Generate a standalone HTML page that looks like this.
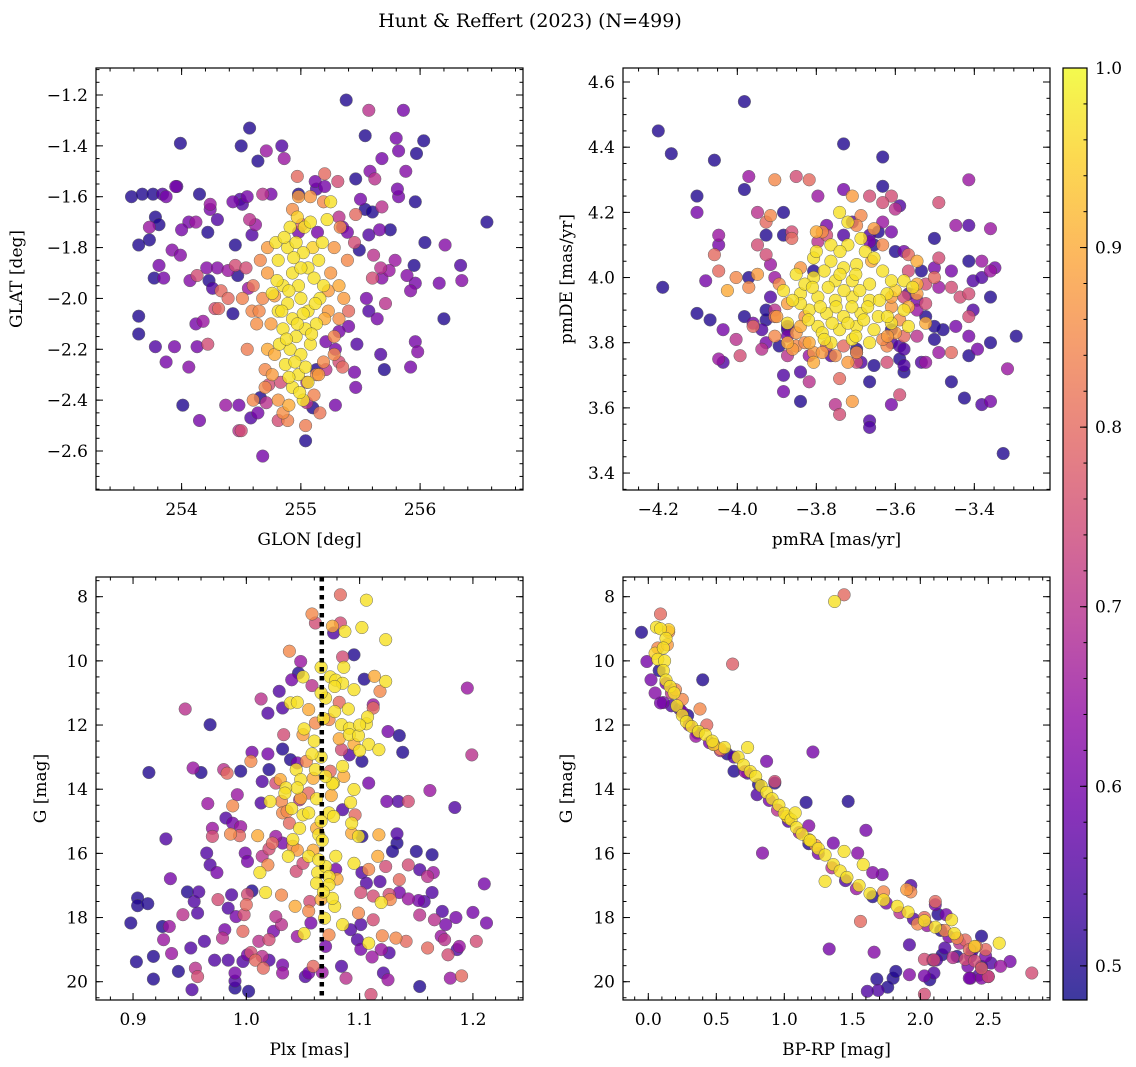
<!DOCTYPE html>
<html><head><meta charset="utf-8"><title>Hunt &amp; Reffert (2023)</title>
<style>
html,body{margin:0;padding:0;background:#fff;}
svg{display:block;font-family:"DejaVu Serif","Liberation Serif",serif;}
</style></head>
<body>
<svg id="fig" xmlns="http://www.w3.org/2000/svg" width="1136" height="1067" viewBox="0 0 1136 1067">
<rect width="1136" height="1067" fill="#fff"/>
<text x="530" y="27" font-size="19" text-anchor="middle" fill="#000">Hunt &amp; Reffert (2023) (N=499)</text>
<g id="layer"></g>
</svg>
<script>
// ---------- Panel 1: GLON / GLAT ----------
const glon = [255.38,255.57,255.86,254.57,253.99,254.50,254.71,254.64,254.84,254.86,255.54,255.80,256.03,255.82,255.97,255.68,255.88,255.58,255.62,255.46,255.31,255.20,254.97,255.12,255.20,255.13,254.98,253.58,253.67,253.76,253.84,253.87,253.95,253.96,254.15,254.43,254.49,254.55,254.51,254.68,254.75,254.24,254.24,254.30,254.57,254.62,254.59,254.22,254.06,254.12,254.00,253.78,253.73,253.81,253.73,253.64,253.92,253.99,254.45,253.81,253.77,253.85,254.07,254.13,254.23,254.21,254.30,254.39,254.47,254.45,254.54,254.56,254.26,254.33,254.39,254.28,254.31,254.18,254.12,254.22,254.13,254.43,253.64,253.64,253.78,253.94,253.87,254.06,254.01,254.15,254.37,254.48,254.58,254.64,254.48,254.50,254.81,254.68,255.04,254.71,255.10,255.05,255.29,255.05,254.83,254.73,254.66,255.13,255.21,255.45,255.46,255.32,255.29,255.21,255.47,255.40,255.32,255.64,255.57,255.71,255.55,255.67,255.70,255.92,255.96,255.98,256.20,255.92,255.96,256.16,255.89,255.95,256.34,256.35,256.04,256.21,256.56,255.75,255.66,255.49,255.61,255.79,255.74,255.68,255.60,255.67,255.57,255.54,255.60,255.68,255.50,255.96,255.82,255.81,255.35,255.39,255.45,255.46,254.98,255.14,255.32,255.01,
254.81,254.89,254.96,255.02,255.06,254.93,254.85,254.98,255.11,255.15,255.00,254.89,254.81,254.93,255.06,255.16,254.85,254.96,255.04,254.91,255.00,255.08,254.87,254.98,255.04,254.93,255.02,254.79,255.03,255.08,255.19,254.76,254.91,255.13,254.82,255.22,255.25,
254.72,254.68,254.63,254.72,254.76,254.70,254.81,254.85,255.23,255.28,255.32,255.25,255.36,255.32,255.19,255.11,254.98,254.93,255.08,255.19,254.72,254.59,254.55,254.51,255.16,254.89,255.13,255.28,255.39,255.04,
254.86,254.94,255.10,254.90,255.12,254.84,255.02,254.97,255.09,254.88,254.95,254.90,255.06,254.99,255.18,254.97,255.00,254.80,255.20,254.78,254.75,254.78,255.23,255.15,254.90,254.70,254.65,255.28,255.33,254.66,254.60,255.40,255.35,254.60];
const glat = [-1.22,-1.26,-1.26,-1.33,-1.39,-1.40,-1.42,-1.46,-1.40,-1.45,-1.36,-1.37,-1.38,-1.42,-1.43,-1.45,-1.50,-1.50,-1.53,-1.53,-1.54,-1.51,-1.52,-1.54,-1.56,-1.57,-1.59,-1.60,-1.59,-1.59,-1.59,-1.60,-1.56,-1.56,-1.59,-1.62,-1.61,-1.60,-1.63,-1.59,-1.59,-1.63,-1.65,-1.69,-1.69,-1.71,-1.75,-1.74,-1.70,-1.70,-1.73,-1.68,-1.72,-1.71,-1.77,-1.79,-1.81,-1.83,-1.79,-1.87,-1.92,-1.92,-1.93,-1.91,-1.93,-1.88,-1.88,-1.89,-1.91,-1.87,-1.88,-1.96,-1.96,-1.97,-2.00,-2.04,-2.04,-2.09,-2.10,-2.18,-2.19,-2.06,-2.07,-2.14,-2.19,-2.19,-2.25,-2.27,-2.42,-2.48,-2.42,-2.42,-2.47,-2.45,-2.52,-2.52,-2.48,-2.62,-2.56,-2.41,-2.43,-2.41,-2.42,-2.33,-2.33,-2.34,-2.39,-2.28,-2.28,-2.29,-2.35,-2.25,-2.20,-2.17,-2.18,-2.11,-2.13,-2.08,-2.05,-2.02,-2.00,-2.22,-2.28,-2.27,-2.17,-2.21,-2.08,-1.97,-1.94,-1.94,-1.91,-1.87,-1.87,-1.93,-1.78,-1.79,-1.70,-1.73,-1.73,-1.81,-1.83,-1.85,-1.89,-1.92,-1.92,-1.88,-1.75,-1.65,-1.66,-1.64,-1.61,-1.62,-1.60,-1.57,-1.72,-1.74,-1.78,-1.67,-1.74,-1.74,-1.68,-1.71,
-1.85,-1.80,-1.78,-1.82,-1.88,-1.90,-1.95,-1.95,-1.92,-1.85,-2.00,-2.02,-2.05,-2.08,-2.05,-2.00,-2.12,-2.15,-2.12,-2.20,-2.22,-2.18,-2.26,-2.30,-2.27,-2.35,-2.40,-1.78,-1.72,-1.70,-1.95,-1.98,-1.72,-2.10,-2.18,-1.69,-1.62,
-1.90,-2.00,-2.10,-2.20,-2.30,-2.35,-2.40,-2.45,-2.05,-2.15,-1.95,-1.90,-2.00,-2.08,-2.25,-2.38,-1.60,-1.65,-1.60,-1.62,-1.80,-2.05,-2.20,-2.00,-2.45,-2.48,-2.30,-1.80,-1.85,-2.50,
-1.76,-1.84,-1.80,-1.97,-2.02,-2.05,-2.06,-2.10,-2.14,-2.16,-2.25,-2.31,-2.33,-2.37,-1.78,-1.68,-1.88,-1.93,-2.08,-2.22,-2.10,-1.99,-1.97,-2.30,-2.42,-2.28,-2.05,-2.22,-1.72,-1.85,-1.95,-2.05,-2.27,-2.40];
const prob1 = [0.5,0.7,0.6,0.5,0.5,0.5,0.65,0.5,0.55,0.65,0.5,0.6,0.5,0.6,0.5,0.6,0.62,0.62,0.7,0.5,0.75,0.8,0.8,0.6,0.6,0.55,0.5,0.5,0.5,0.5,0.55,0.6,0.6,0.55,0.5,0.6,0.55,0.6,0.55,0.7,0.6,0.65,0.6,0.55,0.7,0.65,0.55,0.5,0.6,0.65,0.6,0.5,0.65,0.5,0.5,0.5,0.62,0.62,0.5,0.6,0.5,0.6,0.62,0.75,0.5,0.62,0.62,0.65,0.5,0.75,0.75,0.65,0.55,0.8,0.8,0.75,0.8,0.65,0.6,0.75,0.6,0.5,0.5,0.5,0.55,0.6,0.6,0.62,0.5,0.6,0.65,0.6,0.55,0.6,0.7,0.75,0.75,0.6,0.5,0.7,0.5,0.7,0.6,0.7,0.75,0.75,0.5,0.5,0.7,0.6,0.6,0.75,0.6,0.6,0.55,0.6,0.6,0.6,0.55,0.7,0.6,0.55,0.5,0.6,0.6,0.62,0.5,0.62,0.6,0.6,0.62,0.5,0.55,0.62,0.5,0.62,0.5,0.5,0.6,0.5,0.7,0.65,0.65,0.62,0.75,0.7,0.55,0.5,0.5,0.7,0.6,0.5,0.6,0.6,0.6,0.6,0.75,0.8,0.6,0.6,0.7,0.8,
0.97,0.97,0.97,0.97,0.97,0.97,0.97,0.97,0.97,0.97,0.97,0.97,0.97,0.97,0.97,0.97,0.97,0.97,0.97,0.97,0.97,0.97,0.97,0.97,0.97,0.97,0.97,0.97,0.97,0.97,0.97,0.97,0.97,0.97,0.97,0.97,0.97,
0.88,0.85,0.86,0.9,0.88,0.85,0.87,0.86,0.88,0.85,0.9,0.87,0.88,0.86,0.85,0.84,0.88,0.86,0.87,0.85,0.88,0.85,0.83,0.84,0.82,0.84,0.86,0.87,0.85,0.83,
0.97,0.97,0.95,0.97,0.97,0.97,0.97,0.97,0.97,0.97,0.97,0.97,0.97,0.97,0.97,0.95,0.97,0.97,0.9,0.9,0.88,0.88,0.88,0.88,0.9,0.85,0.85,0.85,0.85,0.85,0.82,0.8,0.8,0.85];

// ---------- Panel 2: pmRA / pmDE ----------
const pmra = [-4.200,-3.982,-4.167,-4.058,-3.731,-3.632,-4.102,-4.102,-3.982,-3.971,-3.905,-3.851,-3.818,-3.796,-3.731,-3.709,-3.665,-3.632,-3.610,-3.414,-3.490,-3.589,-3.949,-3.916,-3.883,-3.927,-4.047,-4.047,-3.927,-3.883,-3.862,-3.862,-3.949,-4.058,-3.927,-3.916,-4.047,-4.080,-4.189,-4.003,-4.025,-3.971,-3.949,-3.971,-3.905,-4.102,-4.069,-3.982,-4.036,-4.047,-4.036,-3.993,-3.960,-3.938,-3.938,-3.883,-3.840,-3.818,-3.883,-3.840,-3.752,-3.741,-3.709,-3.665,-3.665,-3.610,-3.589,-3.665,-3.741,-3.578,-3.458,-3.425,-3.381,-3.359,-3.327,-3.316,-3.294,-3.359,-3.414,-3.458,-3.490,-3.501,-3.479,-3.447,-3.414,-3.392,-3.414,-3.403,-3.359,-3.436,-3.414,-3.458,-3.490,-3.458,-3.403,-3.381,-3.414,-3.381,-3.348,-3.359,-3.501,-3.447,-3.414,-3.359,-3.490,-3.534,-3.501,-3.501,-3.545,-3.578,-3.600,-3.567,-3.523,-3.545,-3.523,-3.523,-3.545,-3.501,-3.578,-3.534,-3.523,-3.578,-3.589,-3.654,-3.621,-3.687,-3.698,-3.763,-3.818,-3.873,-3.894,-3.927,-4.003,-3.905,-3.960,-3.927,-3.916,-3.905,-3.905,-3.873,-3.873,-3.873,-3.851,-3.818,-3.807,-3.807,-3.774,-3.731,-3.698,-3.610,-3.589,-3.621,-3.567,-3.545,-3.610,-3.578,-3.567,-3.523,-3.545,-3.567,-3.632,-3.600,-3.632,-3.643,-3.610,-3.687,-3.698,-3.709,-3.774,-3.774,-3.731,-3.665,-3.796,-3.665,-3.654,-3.807,-3.927,-3.873,-3.698,-3.578,-3.610,
-3.741,-3.720,-3.763,-3.720,-3.676,-3.807,-3.763,-3.698,-3.654,-3.632,-3.851,-3.807,-3.752,-3.709,-3.665,-3.610,-3.883,-3.840,-3.796,-3.752,-3.709,-3.665,-3.621,-3.818,-3.774,-3.731,-3.687,-3.643,-3.578,-3.796,-3.741,-3.698,-3.654,-3.610,-3.763,-3.709,-3.665,-3.840,-3.578,-3.556,-3.829,-3.731,-3.687,-3.873,-3.567,-3.785,
-3.873,-3.829,-3.851,-3.829,-3.785,-3.752,-3.698,-3.632,-3.600,-3.589,-3.610,-3.632,-3.654,-3.785,-3.840,-3.894,-3.545,
-3.730,-3.690,-3.770,-3.810,-3.750,-3.710,-3.790,-3.670,-3.720,-3.760,-3.680,-3.740,-3.700,-3.780,-3.820,-3.640,-3.860,-3.800,-3.740,-3.700,-3.780,-3.620,-3.600,-3.840,-3.860,-3.900,-3.620,-3.660,-3.800,-3.720];
const pmde = [4.45,4.54,4.38,4.36,4.41,4.37,4.25,4.20,4.27,4.31,4.30,4.31,4.30,4.25,4.27,4.25,4.25,4.28,4.25,4.30,4.23,4.22,4.20,4.19,4.20,4.17,4.13,4.10,4.13,4.13,4.14,4.12,4.10,4.07,4.07,4.04,4.02,3.99,3.97,4.00,3.96,4.00,4.01,3.97,4.00,3.89,3.87,3.88,3.84,3.75,3.74,3.76,3.85,3.84,3.78,3.70,3.71,3.68,3.65,3.62,3.61,3.58,3.62,3.56,3.54,3.61,3.64,3.68,3.69,3.71,3.68,3.63,3.61,3.62,3.46,3.72,3.82,3.80,3.76,3.77,3.77,3.81,3.84,3.85,3.82,3.78,3.88,3.90,3.94,3.94,3.95,3.97,3.97,4.02,3.99,4.00,4.05,4.05,4.03,4.02,4.12,4.16,4.16,4.15,4.06,4.02,4.00,4.03,4.05,4.08,4.08,4.07,3.92,3.93,3.88,3.86,3.82,3.85,3.82,3.74,3.74,3.73,3.75,3.73,3.74,3.74,3.74,3.76,3.76,3.76,3.79,3.80,3.81,3.82,3.86,3.87,3.94,3.90,3.88,3.85,3.82,3.80,3.79,3.80,3.77,3.74,3.79,3.79,3.77,3.80,3.79,3.79,3.91,3.90,3.94,3.94,3.95,3.98,3.98,4.02,4.23,4.21,4.17,4.14,4.14,4.19,4.16,4.17,4.16,4.13,4.13,4.13,4.11,4.11,4.10,4.02,3.90,3.84,3.78,3.78,3.84,
4.20,4.17,4.10,4.10,4.08,4.06,4.05,4.04,4.06,4.02,4.01,4.00,3.99,3.99,3.98,3.99,3.96,3.95,3.94,3.93,3.94,3.93,3.95,3.90,3.89,3.88,3.89,3.88,3.90,3.85,3.84,3.85,3.84,3.86,3.80,3.81,3.80,3.92,3.99,3.97,3.98,4.03,4.12,3.86,3.85,3.83,
3.92,3.88,3.83,3.80,3.77,3.76,3.77,3.81,3.83,3.87,3.91,4.10,4.15,4.14,4.03,3.98,3.95,
3.96,3.96,3.97,3.97,3.91,3.91,3.91,3.91,3.86,3.86,3.87,4.01,4.01,4.02,3.87,3.93,3.93,4.08,4.08,3.82,3.81,3.88,3.96,3.85,3.78,3.88,3.82,4.05,4.14,3.74];
const prob2 = [0.5,0.5,0.5,0.5,0.5,0.5,0.5,0.6,0.5,0.65,0.85,0.75,0.8,0.65,0.6,0.88,0.75,0.5,0.75,0.65,0.75,0.55,0.7,0.85,0.5,0.8,0.65,0.6,0.5,0.5,0.75,0.8,0.75,0.8,0.75,0.65,0.8,0.6,0.5,0.85,0.9,0.5,0.88,0.85,0.65,0.5,0.5,0.5,0.6,0.65,0.55,0.75,0.8,0.55,0.7,0.55,0.55,0.7,0.6,0.5,0.7,0.75,0.88,0.55,0.55,0.6,0.75,0.5,0.8,0.5,0.5,0.5,0.55,0.6,0.5,0.65,0.5,0.5,0.5,0.8,0.65,0.5,0.5,0.6,0.6,0.6,0.75,0.55,0.5,0.75,0.75,0.75,0.65,0.6,0.55,0.55,0.5,0.65,0.6,0.65,0.5,0.65,0.55,0.65,0.75,0.5,0.8,0.6,0.9,0.6,0.5,0.8,0.75,0.6,0.5,0.9,0.7,0.5,0.8,0.55,0.65,0.55,0.5,0.5,0.75,0.55,0.75,0.55,0.65,0.7,0.5,0.6,0.7,0.85,0.6,0.5,0.55,0.7,0.8,0.55,0.6,0.9,0.85,0.9,0.88,0.9,0.75,0.8,0.55,0.55,0.55,0.85,0.9,0.65,0.88,0.75,0.55,0.75,0.9,0.75,0.75,0.7,0.65,0.5,0.6,0.85,0.85,0.55,0.6,0.75,0.55,0.55,0.7,0.6,0.5,0.5,0.5,0.5,0.5,0.55,0.5,
0.97,0.97,0.97,0.97,0.97,0.97,0.97,0.97,0.97,0.97,0.97,0.97,0.97,0.97,0.97,0.97,0.97,0.97,0.97,0.97,0.97,0.97,0.97,0.97,0.97,0.97,0.97,0.97,0.97,0.97,0.97,0.97,0.97,0.97,0.97,0.97,0.97,0.97,0.97,0.97,0.97,0.97,0.97,0.97,0.97,0.97,
0.88,0.86,0.87,0.85,0.88,0.86,0.87,0.85,0.88,0.86,0.87,0.85,0.88,0.86,0.87,0.85,0.88,
0.97,0.97,0.97,0.97,0.97,0.97,0.97,0.97,0.97,0.97,0.97,0.97,0.97,0.97,0.97,0.97,0.97,0.97,0.97,0.97,0.97,0.97,0.95,0.9,0.88,0.88,0.88,0.9,0.9,0.88];

// ---------- Panel 3: Plx / G ----------
const plx = [1.083,1.106,1.058,1.061,1.076,1.083,1.077,1.087,1.102,1.123,1.038,1.095,1.085,1.048,1.086,1.066,1.046,1.040,1.050,1.074,1.079,1.085,1.104,1.113,1.123,1.078,1.095,1.118,1.058,1.029,1.013,1.019,1.032,1.039,1.045,1.055,1.070,1.082,1.078,1.112,1.112,1.195,0.946,0.968,1.033,1.051,1.061,1.073,1.084,1.091,1.091,1.099,1.106,1.107,1.108,1.117,1.100,1.082,1.084,1.091,1.102,1.125,1.135,1.138,1.199,1.032,1.005,1.019,1.004,1.039,1.045,1.053,1.061,1.044,1.048,1.059,1.074,1.085,1.077,1.086,0.953,0.960,0.980,0.983,0.995,1.020,0.914,1.014,1.026,1.035,1.045,1.034,1.048,1.055,1.021,1.031,1.013,1.047,1.076,1.095,1.092,1.108,1.162,1.124,1.134,1.143,1.184,0.966,0.992,0.988,0.982,0.988,0.995,0.970,0.970,0.929,0.986,0.994,1.010,1.032,1.038,1.036,1.050,1.055,1.047,1.062,1.064,1.073,1.077,1.085,1.093,1.096,1.099,1.093,1.102,1.117,1.133,1.133,1.129,1.150,1.164,1.041,1.041,1.032,1.037,1.026,1.023,1.020,1.014,1.019,1.012,0.999,1.001,0.965,0.968,0.974,0.933,1.001,1.017,1.005,1.031,1.044,1.050,1.055,1.059,1.063,1.070,1.073,1.062,1.073,1.079,1.079,1.095,1.102,1.108,1.116,1.123,1.118,1.106,1.101,1.112,1.126,1.127,1.119,1.135,1.135,1.143,1.153,1.165,1.160,1.164,1.210,1.143,1.152,1.157,1.173,1.185,1.200,1.212,1.153,1.166,1.176,1.172,1.175,1.178,1.186,1.188,1.190,1.180,1.203,1.160,1.153,1.126,1.119,1.121,1.125,1.110,1.111,1.101,1.098,1.108,1.120,1.132,1.141,1.101,1.112,1.099,1.092,1.085,1.084,1.088,1.073,1.070,1.069,1.078,1.076,1.066,1.055,1.056,1.057,1.051,1.045,1.043,1.031,1.024,1.020,1.011,1.026,1.014,1.004,1.008,1.001,0.997,1.015,1.032,1.032,1.020,1.055,1.059,1.067,1.052,1.002,0.990,0.990,0.990,0.997,0.998,1.000,0.991,0.987,0.979,0.981,0.984,0.975,0.972,0.984,0.963,0.957,0.954,0.958,0.948,0.951,0.952,0.955,0.957,0.940,0.944,0.934,0.926,0.932,0.927,0.918,0.918,0.903,0.898,0.904,0.904,0.913,
1.066,1.068,1.060,1.066,1.070,1.062,1.066,1.067,1.064,1.068,1.058,1.090,1.100,1.040,1.030,1.045,1.080,1.095,1.050,1.075];
const gmag3 = [7.94,8.11,8.54,8.82,8.92,8.82,9.13,9.08,8.96,9.34,9.70,9.81,9.88,10.02,10.20,10.20,10.38,10.59,10.50,10.50,10.60,10.70,10.57,10.48,10.64,10.80,10.90,10.95,10.77,10.95,11.19,11.63,11.47,11.31,11.29,11.52,11.16,11.29,11.58,11.37,11.47,10.85,11.50,11.99,12.30,12.12,11.94,11.83,11.99,12.10,12.30,12.33,11.96,11.75,12.60,12.77,12.80,12.43,12.77,12.93,13.13,12.20,12.33,12.85,12.93,12.75,12.85,12.90,13.13,13.08,13.18,13.13,13.39,13.39,13.70,13.66,13.44,13.29,13.81,13.60,13.34,13.48,13.39,13.50,13.44,13.39,13.48,13.76,13.81,13.96,13.96,14.12,14.28,14.12,14.38,14.38,14.43,14.33,13.83,14.01,14.41,13.81,14.04,14.38,14.38,14.38,14.57,14.45,14.17,14.52,14.90,15.06,15.17,15.22,15.47,15.55,15.40,15.45,15.45,14.74,15.06,14.69,14.80,14.74,15.22,15.22,15.42,14.74,14.85,14.64,15.06,14.80,15.47,15.37,15.47,15.42,15.39,15.68,15.94,15.94,16.04,15.57,15.78,15.68,16.09,15.47,15.68,15.86,16.09,16.36,16.60,15.99,16.25,15.99,16.36,16.60,16.79,17.28,17.22,17.17,17.30,16.56,16.31,16.09,15.90,16.60,16.41,16.72,16.93,16.98,16.09,16.50,16.31,16.60,16.50,16.09,16.41,16.88,16.93,17.22,17.33,17.28,17.44,17.53,16.82,17.22,16.36,16.51,16.60,16.72,17.22,16.95,17.42,17.47,17.50,17.81,18.00,17.84,18.17,17.92,18.07,18.22,18.58,18.69,19.16,19.00,18.90,19.82,19.89,18.74,18.95,20.15,19.10,19.00,19.73,19.94,20.40,19.23,18.99,18.69,18.80,18.57,18.64,18.74,18.22,18.07,17.86,18.38,18.22,19.52,19.89,18.54,18.90,18.02,17.65,17.40,17.44,17.80,17.50,18.17,18.50,18.59,17.65,18.22,18.43,18.69,18.74,17.97,19.21,19.09,19.33,19.16,19.37,19.58,19.48,19.73,19.33,19.73,19.52,19.71,19.84,20.30,20.20,19.98,19.73,18.43,17.91,17.60,17.97,17.29,18.64,18.38,17.71,17.44,19.33,19.33,18.74,17.86,17.50,17.20,17.20,18.95,20.25,19.58,19.84,19.68,17.91,19.12,18.28,18.28,18.69,19.21,19.92,19.38,18.17,17.39,17.63,17.57,
11.00,11.80,12.50,13.00,13.60,14.30,15.00,15.60,16.20,17.20,12.90,11.50,12.00,14.60,13.70,15.90,16.80,12.60,12.30,14.20];
const prob3 = [0.8,0.97,0.85,0.75,0.9,0.75,0.55,0.97,0.97,0.97,0.85,0.5,0.75,0.65,0.97,0.97,0.5,0.6,0.97,0.97,0.97,0.97,0.5,0.9,0.97,0.97,0.97,0.85,0.7,0.55,0.7,0.55,0.55,0.97,0.97,0.9,0.97,0.8,0.97,0.65,0.8,0.65,0.7,0.5,0.75,0.97,0.85,0.85,0.97,0.97,0.97,0.97,0.97,0.97,0.97,0.97,0.97,0.9,0.75,0.55,0.5,0.6,0.5,0.5,0.7,0.5,0.6,0.6,0.85,0.5,0.6,0.85,0.97,0.97,0.97,0.9,0.8,0.97,0.97,0.9,0.65,0.5,0.7,0.8,0.5,0.5,0.5,0.55,0.75,0.97,0.97,0.97,0.9,0.8,0.97,0.85,0.55,0.7,0.97,0.97,0.97,0.6,0.65,0.6,0.55,0.75,0.55,0.65,0.65,0.85,0.55,0.6,0.65,0.65,0.75,0.55,0.85,0.8,0.9,0.85,0.8,0.85,0.97,0.97,0.97,0.9,0.97,0.97,0.97,0.55,0.97,0.8,0.97,0.9,0.5,0.9,0.55,0.5,0.5,0.5,0.5,0.97,0.85,0.6,0.97,0.65,0.8,0.75,0.7,0.85,0.97,0.6,0.6,0.55,0.55,0.6,0.6,0.75,0.97,0.5,0.85,0.75,0.75,0.97,0.9,0.97,0.97,0.97,0.97,0.97,0.97,0.6,0.97,0.55,0.85,0.9,0.75,0.55,0.55,0.75,0.75,0.75,0.85,0.97,0.8,0.6,0.75,0.55,0.65,0.7,0.55,0.6,0.65,0.6,0.55,0.55,0.6,0.6,0.6,0.7,0.7,0.6,0.65,0.7,0.75,0.55,0.65,0.8,0.65,0.75,0.8,0.5,0.55,0.65,0.55,0.65,0.75,0.65,0.6,0.55,0.97,0.85,0.85,0.8,0.55,0.75,0.85,0.55,0.97,0.55,0.7,0.85,0.6,0.97,0.97,0.97,0.9,0.85,0.75,0.6,0.97,0.65,0.9,0.7,0.6,0.75,0.7,0.7,0.7,0.75,0.8,0.6,0.55,0.8,0.6,0.65,0.55,0.6,0.8,0.65,0.55,0.5,0.5,0.55,0.6,0.8,0.75,0.8,0.6,0.55,0.7,0.6,0.55,0.75,0.55,0.55,0.55,0.55,0.55,0.55,0.5,0.55,0.55,0.7,0.75,0.5,0.7,0.65,0.5,0.65,0.65,0.5,0.5,0.5,0.5,0.5,0.5,0.5,
0.97,0.97,0.97,0.97,0.97,0.97,0.97,0.97,0.97,0.97,0.97,0.97,0.97,0.97,0.9,0.88,0.9,0.9,0.88,0.9];
const plxMean = [1.0666];

// ---------- Panel 4: BP-RP / G ----------
const bprp = [0.06,0.09,0.13,0.11,0.07,0.12,0.11,0.13,0.16,0.19,0.21,0.25,0.28,0.32,0.37,0.42,0.47,0.56,0.66,0.70,0.75,0.79,0.83,0.87,0.91,0.96,1.00,1.05,1.09,1.13,1.19,1.25,1.30,1.36,1.41,1.46,1.55,1.63,1.73,1.83,2.03,2.11,2.25,1.30,0.73,1.08,1.44,1.58,1.37,2.58,2.23,1.91,0.15,0.05,0.48,1.02,1.18,2.40,
0.09,1.44,0.62,0.15,0.07,0.25,0.38,0.43,0.93,1.73,1.90,1.93,2.11,2.03,2.27,2.33,2.48,2.45,2.33,1.56,2.03,0.53,1.03,1.23,2.41,2.10,2.50,2.82,2.03,0.14,0.20,1.98,2.18,2.36,2.24,2.40,
-0.05,-0.01,0.02,0.05,0.11,0.09,0.40,1.21,0.17,0.29,0.48,0.58,0.63,0.87,0.73,0.80,0.93,1.16,1.47,1.60,1.36,1.18,0.84,1.54,1.65,1.72,1.93,2.11,2.19,2.13,2.45,2.59,2.66,2.48,2.35,2.43,2.37,
2.09,2.10,2.07,2.03,1.92,1.80,1.82,1.76,1.69,1.61,1.68,1.33,1.66,1.92,2.12,2.16,2.18,2.27,2.37,2.45,2.52,2.36,2.45,2.50,
0.08,0.13,0.17,0.23,0.30,0.36,0.45,0.53,0.63,0.71,0.81,0.89,0.95,1.03,1.11,1.18,1.25,1.35,1.45,1.53,1.65,1.75,1.85,1.95,2.05,2.15,2.21,2.29,2.38,0.25,0.35];
const gmag4 = [8.95,9.00,9.30,9.60,9.95,10.00,10.30,10.60,10.80,11.00,11.40,11.70,11.90,12.05,12.20,12.30,12.50,12.70,13.00,13.25,13.45,13.60,13.90,14.10,14.30,14.50,14.75,14.95,15.20,15.40,15.60,15.85,16.05,16.35,16.55,16.75,17.00,17.25,17.45,17.65,18.10,18.30,18.50,16.87,12.70,14.74,15.94,16.35,8.15,18.80,18.07,17.83,9.03,9.76,12.61,14.85,15.57,18.90,
8.54,7.94,10.10,9.10,9.60,11.20,11.50,12.00,13.76,17.20,17.13,17.20,17.50,18.00,18.64,18.70,19.00,19.58,19.30,18.12,19.30,12.75,14.90,15.75,18.90,19.32,19.84,19.73,20.39,9.50,10.90,18.20,18.40,19.00,19.25,19.35,
9.11,10.02,10.59,11.00,11.30,11.31,10.59,12.84,11.40,11.70,12.60,12.90,13.44,13.13,13.50,14.17,13.81,14.41,14.38,15.28,15.68,15.14,15.99,15.99,16.60,16.66,17.00,17.60,17.91,17.90,18.58,19.52,19.37,19.20,19.52,19.80,19.89,
19.32,19.73,19.94,19.82,19.78,19.89,19.68,20.17,20.27,20.30,19.92,18.98,19.08,18.85,19.32,19.16,18.95,19.21,19.21,19.52,19.42,19.89,19.89,19.84,
10.30,10.70,11.00,11.50,12.00,12.25,12.55,12.80,13.00,13.45,13.85,14.35,14.65,15.00,15.35,15.70,16.00,16.45,16.85,17.10,17.35,17.55,17.85,18.05,18.25,18.40,18.60,18.80,19.05,11.60,12.35];
const prob4 = [0.97,0.97,0.97,0.97,0.97,0.97,0.97,0.97,0.97,0.97,0.97,0.97,0.97,0.97,0.97,0.97,0.97,0.97,0.97,0.97,0.97,0.97,0.97,0.97,0.97,0.97,0.97,0.97,0.97,0.97,0.97,0.97,0.97,0.97,0.97,0.97,0.97,0.97,0.97,0.97,0.97,0.97,0.97,0.97,0.97,0.97,0.97,0.97,0.97,0.97,0.97,0.97,0.95,0.95,0.95,0.95,0.95,0.95,
0.8,0.8,0.78,0.85,0.85,0.85,0.85,0.8,0.75,0.85,0.88,0.85,0.8,0.8,0.85,0.8,0.8,0.78,0.75,0.8,0.75,0.85,0.88,0.88,0.8,0.75,0.75,0.75,0.75,0.88,0.85,0.85,0.85,0.8,0.7,0.75,
0.5,0.6,0.6,0.62,0.6,0.6,0.5,0.6,0.55,0.5,0.55,0.5,0.5,0.6,0.55,0.55,0.5,0.5,0.5,0.6,0.6,0.62,0.62,0.62,0.62,0.6,0.55,0.6,0.6,0.5,0.5,0.65,0.6,0.6,0.6,0.55,0.6,
0.5,0.55,0.5,0.6,0.62,0.5,0.5,0.5,0.55,0.55,0.5,0.6,0.62,0.55,0.55,0.5,0.55,0.5,0.55,0.5,0.55,0.6,0.62,0.6,
0.5,0.6,0.7,0.55,0.65,0.5,0.6,0.7,0.55,0.65,0.5,0.6,0.7,0.55,0.65,0.5,0.6,0.7,0.55,0.65,0.5,0.6,0.7,0.55,0.65,0.5,0.6,0.7,0.55,0.6,0.65];

// ---------- colour scale ----------
const cbTicks = [0.5,0.6,0.7,0.8,0.9,1.0];
const plasmaStops = ["#0d0887","#41049d","#6a00a8","#8f0da4","#b12a90","#cc4778","#e16462","#f2844b","#fca636","#fcce25","#f0f921"];
const VMIN = 0.481, VMAX = 1.0;

function hex2rgb(h){return [parseInt(h.substr(1,2),16),parseInt(h.substr(3,2),16),parseInt(h.substr(5,2),16)];}
function plasma(v){
  let t=(v-VMIN)/(VMAX-VMIN); t=Math.max(0,Math.min(1,t));
  const f=t*10, i=Math.min(9,Math.floor(f)), u=f-i;
  const a=hex2rgb(plasmaStops[i]), b=hex2rgb(plasmaStops[i+1]);
  return "rgb("+a.map((c,k)=>Math.round(c+(b[k]-c)*u)).join(",")+")";
}
const NS="http://www.w3.org/2000/svg";
const layer=document.getElementById("layer");
function el(tag,attrs,parent){const e=document.createElementNS(NS,tag);for(const k in attrs)e.setAttribute(k,attrs[k]);(parent||layer).appendChild(e);return e;}
function fmt(v,d){const s=v.toFixed(d);return v<0?"\u2212"+s.slice(1):s;}
function range(a,b,s){const r=[];const n=Math.round((b-a)/s);for(let i=0;i<=n;i++)r.push(a+i*s);return r;}

function panel(cfg){
  const g=el("g",{});
  
  
  const [L,T,R,B]=cfg.box;
  const sx=v=>L+(v-cfg.xd[0])/(cfg.xd[1]-cfg.xd[0])*(R-L);
  const sy=v=>T+(v-cfg.yd[0])/(cfg.yd[1]-cfg.yd[0])*(B-T);
  const idx=cfg.x.map((_,i)=>i).sort((a,b)=>cfg.p[a]-cfg.p[b]);
  const pg=el("g",{},g);
  
  
  const clipId=cfg.name+"-clip";
  const cp=el("clipPath",{id:clipId},g); el("rect",{x:L,y:T,width:R-L,height:B-T},cp);
  pg.setAttribute("clip-path","url(#"+clipId+")");
  idx.forEach(i=>{
    const c=el("circle",{cx:sx(cfg.x[i]).toFixed(1),cy:sy(cfg.y[i]).toFixed(1),r:6.3,fill:plasma(cfg.p[i]),stroke:"#444","stroke-width":0.5,opacity:0.8},pg);
    
    
  });
  if(cfg.vline){
    cfg.vline.forEach(v=>{
      const ln=el("line",{x1:sx(v),x2:sx(v),y1:T,y2:B,stroke:"#000","stroke-width":4.5,"stroke-dasharray":"4.5 4.5"},g);
      
      
    });
  }
  const fr=el("rect",{x:L,y:T,width:R-L,height:B-T,fill:"none",stroke:"#000","stroke-width":1.2},g);
  
  
  const tk=el("g",{stroke:"#000","stroke-width":1},g);
  const inX=v=>v>=Math.min(...cfg.xd)-1e-9&&v<=Math.max(...cfg.xd)+1e-9;
  const inY=v=>v>=Math.min(...cfg.yd)-1e-9&&v<=Math.max(...cfg.yd)+1e-9;
  cfg.xminor.filter(inX).forEach(v=>{const X=sx(v);el("line",{x1:X,x2:X,y1:B,y2:B-3.5},tk);el("line",{x1:X,x2:X,y1:T,y2:T+3.5},tk);});
  cfg.yminor.filter(inY).forEach(v=>{const Y=sy(v);el("line",{x1:L,x2:L+3.5,y1:Y,y2:Y},tk);el("line",{x1:R,x2:R-3.5,y1:Y,y2:Y},tk);});
  cfg.xmajor.filter(inX).forEach(v=>{const X=sx(v);el("line",{x1:X,x2:X,y1:B,y2:B-7},tk);el("line",{x1:X,x2:X,y1:T,y2:T+7},tk);
    const t=el("text",{x:X,y:B+25,"font-size":17,"text-anchor":"middle",fill:"#000"},g);t.textContent=fmt(v,cfg.xdec);
    
    });
  cfg.ymajor.filter(inY).forEach(v=>{const Y=sy(v);el("line",{x1:L,x2:L+7,y1:Y,y2:Y},tk);el("line",{x1:R,x2:R-7,y1:Y,y2:Y},tk);
    const t=el("text",{x:L-8,y:Y+6,"font-size":17,"text-anchor":"end",fill:"#000"},g);t.textContent=fmt(v,cfg.ydec);
    
    });
  const xl=el("text",{x:(L+R)/2,y:B+55,"font-size":17,"text-anchor":"middle",fill:"#000"},g);xl.textContent=cfg.xlabel;
  
  
  const yl=el("text",{x:0,y:0,"font-size":17,"text-anchor":"middle",fill:"#000",transform:"translate("+cfg.ylx+","+(T+B)/2+") rotate(-90)"},g);yl.textContent=cfg.ylabel;
  
  
}

panel({name:"glon-glat-panel",box:[96,68,523,490],xd:[253.282,256.863],yd:[-1.0938,-2.7534],x:glon,y:glat,p:prob1,
  xmajor:range(254,256,1),xminor:range(253.4,256.8,0.2),ymajor:range(-2.6,-1.2,0.2),yminor:range(-2.75,-1.1,0.05),xdec:0,ydec:1,xlabel:"GLON [deg]",ylabel:"GLAT [deg]",ylx:22});
panel({name:"pm-panel",box:[623,68,1050,490],xd:[-4.2894,-3.2084],yd:[4.643,3.348],x:pmra,y:pmde,p:prob2,
  xmajor:range(-4.2,-3.4,0.2),xminor:range(-4.25,-3.25,0.05),ymajor:range(3.4,4.6,0.2),yminor:range(3.35,4.6,0.05),xdec:1,ydec:1,xlabel:"pmRA [mas/yr]",ylabel:"pmDE [mas/yr]",ylx:572});
panel({name:"plx-g-panel",box:[96,577,523,1000],xd:[0.8673,1.2442],yd:[7.386,20.570],x:plx,y:gmag3,p:prob3,vline:plxMean,
  xmajor:range(0.9,1.2,0.1),xminor:range(0.88,1.24,0.02),ymajor:range(8,20,2),yminor:range(7.5,20.5,0.5),xdec:1,ydec:0,xlabel:"Plx [mas]",ylabel:"G [mag]",ylx:46});
panel({name:"cmd-panel",box:[623,577,1050,1000],xd:[-0.1860,2.9537],yd:[7.386,20.570],x:bprp,y:gmag4,p:prob4,
  xmajor:range(0,2.5,0.5),xminor:range(-0.1,2.9,0.1),ymajor:range(8,20,2),yminor:range(7.5,20.5,0.5),xdec:1,ydec:0,xlabel:"BP-RP [mag]",ylabel:"G [mag]",ylx:572});

// ---------- colour bar ----------
(function(){
  const L=1063,R=1087,T=68,B=1000;
  const cb=el("g",{});
  
  
  const defs=el("defs",{},cb);
  const lg=el("linearGradient",{id:"cbgrad",x1:0,y1:1,x2:0,y2:0},defs);
  plasmaStops.forEach((c,i)=>el("stop",{offset:(i/10),"stop-color":c},lg));
  const r=el("rect",{x:L,y:T,width:R-L,height:B-T,fill:"url(#cbgrad)",opacity:0.8},cb);
  
  
  el("rect",{x:L,y:T,width:R-L,height:B-T,fill:"none",stroke:"#000","stroke-width":1.2},cb);
  const sy=v=>B-(v-VMIN)/(VMAX-VMIN)*(B-T);
  range(0.48,1.0,0.02).filter(v=>v>=VMIN&&v<=VMAX).forEach(v=>el("line",{x1:R,x2:R-3.5,y1:sy(v),y2:sy(v),stroke:"#000"},cb));
  cbTicks.forEach(v=>{const Y=sy(v);el("line",{x1:R,x2:R-7,y1:Y,y2:Y,stroke:"#000"},cb);
    const t=el("text",{x:R+8,y:Y+6,"font-size":17,fill:"#000"},cb);t.textContent=v.toFixed(1);
    
    });
})();
</script>
</body></html>
